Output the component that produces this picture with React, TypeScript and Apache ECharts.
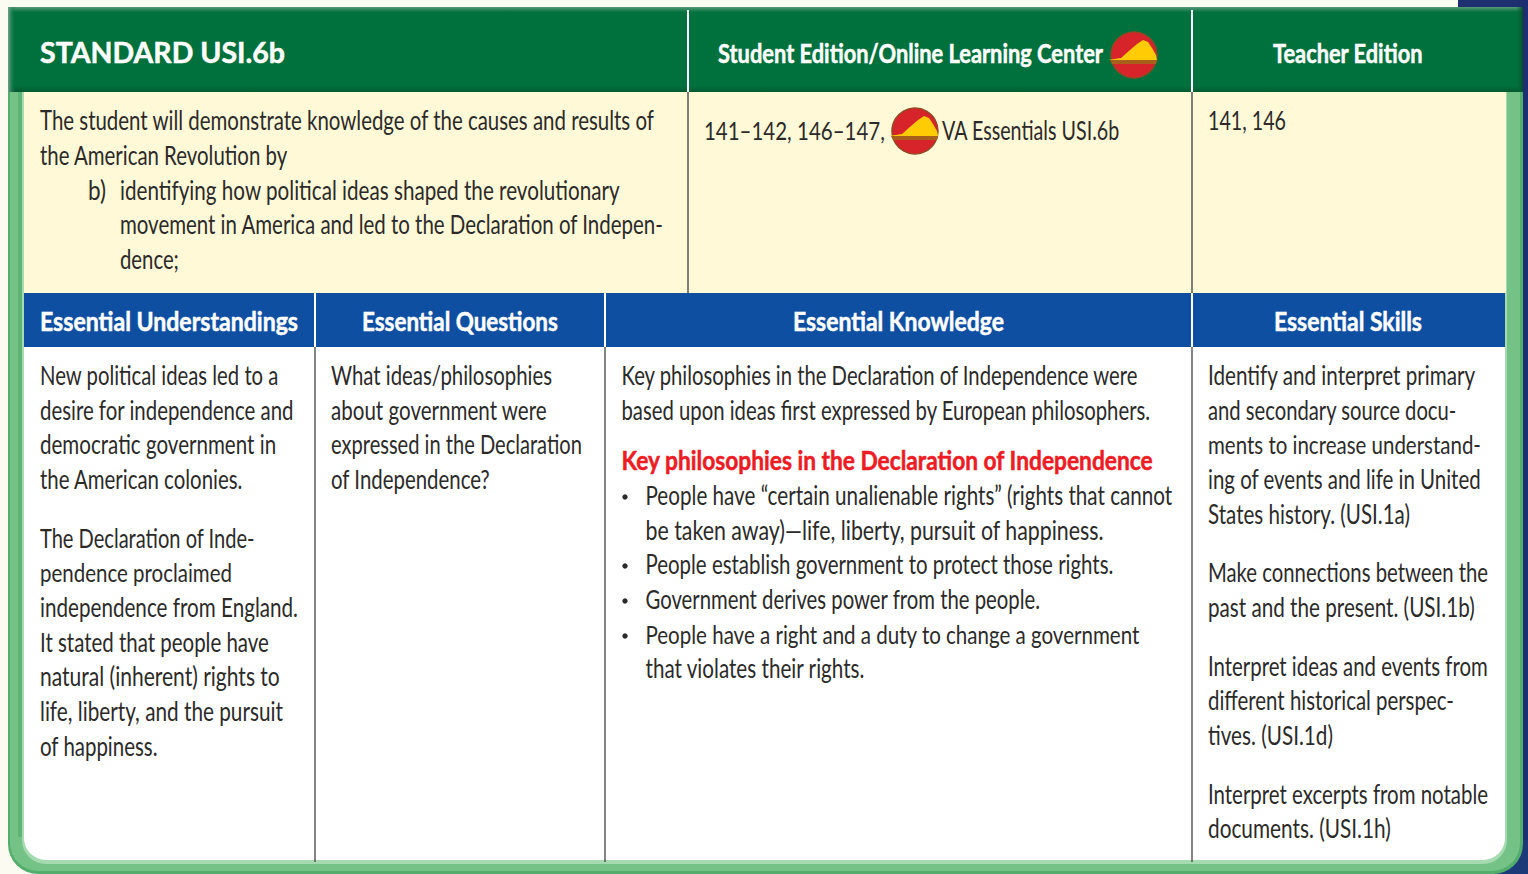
import React, { useEffect, useRef } from "react";
import * as echarts from "echarts";

// ---------- Content ----------
const headerLabels = ["STANDARD USI.6b", "Student Edition/Online Learning Center", "Teacher Edition"];
const standardLines = [
  "The student will demonstrate knowledge of the causes and results of",
  "the American Revolution by",
  "b)",
  "identifying how political ideas shaped the revolutionary",
  "movement in America and led to the Declaration of Indepen-",
  "dence;",
];
const pageRefs = ["141–142, 146–147,", "VA Essentials USI.6b", "141, 146"];
const sectionLabels = ["Essential Understandings", "Essential Questions", "Essential Knowledge", "Essential Skills"];
const understandingLines = [
  "New political ideas led to a",
  "desire for independence and",
  "democratic government in",
  "the American colonies.",
  "The Declaration of Inde-",
  "pendence proclaimed",
  "independence from England.",
  "It stated that people have",
  "natural (inherent) rights to",
  "life, liberty, and the pursuit",
  "of happiness.",
];
const questionLines = [
  "What ideas/philosophies",
  "about government were",
  "expressed in the Declaration",
  "of Independence?",
];
const knowledgeLines = [
  "Key philosophies in the Declaration of Independence were",
  "based upon ideas first expressed by European philosophers.",
];
const knowledgeHeading = "Key philosophies in the Declaration of Independence";
const bulletLines = [
  "People have “certain unalienable rights” (rights that cannot",
  "be taken away)—life, liberty, pursuit of happiness.",
  "People establish government to protect those rights.",
  "Government derives power from the people.",
  "People have a right and a duty to change a government",
  "that violates their rights.",
];
const skillLines = [
  "Identify and interpret primary",
  "and secondary source docu-",
  "ments to increase understand-",
  "ing of events and life in United",
  "States history. (USI.1a)",
  "Make connections between the",
  "past and the present. (USI.1b)",
  "Interpret ideas and events from",
  "different historical perspec-",
  "tives. (USI.1d)",
  "Interpret excerpts from notable",
  "documents. (USI.1h)",
];

// ---------- Layout (x, centre y, width on the page) ----------
type Box = [number, number, number];
const headerBoxes: Box[] = [[40, 53, 245], [718, 54, 385], [1273, 54, 150]];
const standardBoxes: Box[] = [[40, 121, 615], [40, 156, 248], [88, 191, 18], [120, 191, 500], [120, 225, 544], [120, 260, 59]];
const pageBoxes: Box[] = [[704, 131, 181], [942, 131, 178], [1208, 121, 78]];
const sectionBoxes: Box[] = [[40, 322, 258], [362, 322, 196], [793, 322, 211], [1274, 322, 148]];
const understandingBoxes: Box[] = [[40, 376, 239], [40, 411, 254], [40, 445, 236], [40, 480, 203], [40, 539, 215], [40, 573, 192], [40, 608, 258], [40, 643, 229], [40, 677, 240], [40, 712, 243], [40, 747, 118]];
const questionBoxes: Box[] = [[331, 376, 221], [331, 411, 216], [331, 445, 251], [331, 480, 159]];
const knowledgeBoxes: Box[] = [[621.5, 376, 517.5], [621.5, 411, 529.5]];
const headingBox: Box = [621.5, 461, 532.5];
const bulletBoxes: Box[] = [[645.5, 496, 527], [645.5, 531, 459], [645.5, 565, 468], [645.5, 600, 395], [645.5, 635, 495], [645.5, 669, 220]];
const bulletRows = [0, 2, 3, 4];
const skillBoxes: Box[] = [[1208, 376, 268], [1208, 411, 249], [1208, 445, 273], [1208, 480, 273], [1208, 515, 202], [1208, 573, 280], [1208, 608, 267], [1208, 667, 280], [1208, 701, 246], [1208, 736, 125], [1208, 795, 280], [1208, 829, 183]];

const FONT = "Lato";
const measure = document.createElement("canvas").getContext("2d")!;

function line(text: string, box: Box, size: number, weight: string, fill: string) {
  const font = `${weight} ${size}px ${FONT}`;
  measure.font = font;
  const w = measure.measureText(text).width || 1;
  const heavy = weight === "bold";
  return {
    type: "text",
    x: box[0],
    y: box[1] - 1,
    scaleX: box[2] / w,
    silent: true,
    style: {
      text,
      font,
      fill,
      align: "left",
      verticalAlign: "middle",
      ...(heavy ? { stroke: fill, lineWidth: 0.5 } : {}),
    },
  };
}

const rect = (x: number, y: number, w: number, h: number, fill: any, r?: number) => ({
  type: "rect",
  silent: true,
  shape: { x, y, width: w, height: h, r: r ?? 0 },
  style: { fill },
});

const vGrad = (stops: [number, string][]) =>
  new echarts.graphic.LinearGradient(0, 0, 0, 1, stops.map(([offset, color]) => ({ offset, color })));
const hGrad = (stops: [number, string][]) =>
  new echarts.graphic.LinearGradient(0, 0, 1, 0, stops.map(([offset, color]) => ({ offset, color })));

function globe(cx: number, cy: number) {
  const p = (pts: number[][]) => pts.map(([a, b]) => [cx + a, cy + b]);
  return [
    { type: "circle", silent: true, shape: { cx, cy, r: 23 }, style: { fill: "#D7232A", stroke: "#8F4A24", lineWidth: 1.5 } },
    {
      type: "polygon",
      silent: true,
      shape: { points: p([[-26, 5], [-13, 3], [-4, -5], [3, -11], [9, -15], [14, -13], [18, -7], [22, 0], [23, 5]]) },
      style: { fill: "#FFCB05" },
    },
    { type: "polygon", silent: true, shape: { points: p([[-24, 5], [23, 5], [22, 9], [-22, 9]]) }, style: { fill: "#A8601A" } },
  ];
}

function buildGraphics() {
  const els: any[] = [];
  const INK = "#2B2A29";
  // page and frame
  els.push(rect(0, 0, 1528, 874, "#FCFBF2"));
  els.push(rect(1458, 0, 70, 8, "#1D2F6F"));
  els.push(rect(1523, 0, 5, 874, "#1D2F72"));
  els.push(rect(1490, 840, 38, 34, "#1D3A78"));
  els.push(rect(8, 60, 1515, 814, "#53AE6E", 30));
  els.push(rect(10, 60, 1510, 811, "#74C286", 28));
  els.push(rect(22, 60, 1485, 804, "#A6DAB1", 24));
  els.push(rect(18, 92, 4, 745, "#5FB475"));
  els.push(rect(24, 60, 1481, 800, "#FFFFFF", 22));
  // green header
  els.push(rect(8, 7, 1515, 85, vGrad([[0, "#5A9A78"], [0.06, "#00703C"], [0.93, "#00703C"], [1, "#045A30"]])));
  els.push(rect(8, 7, 8, 85, hGrad([[0, "#6FA389"], [1, "rgba(0,112,60,0)"]])));
  els.push(rect(1516, 7, 7, 85, hGrad([[0, "rgba(0,112,60,0)"], [1, "#0A4A2C"]])));
  // yellow row and blue band
  els.push(rect(24, 92, 1482, 201, "#FFF9D7"));
  els.push(rect(24, 293, 1481, 54, "#0F4FA2"));
  // rules
  const rule = (x: number, y1: number, y2: number, stroke: string, w = 2) => ({
    type: "line",
    silent: true,
    shape: { x1: x, y1, x2: x, y2 },
    style: { stroke, lineWidth: w },
  });
  els.push(rule(688, 10, 92, "#FFFFFF"));
  els.push(rule(1192, 10, 92, "#FFFFFF"));
  els.push(rule(688, 92, 293, "#555555", 1.5));
  els.push(rule(1192, 92, 293, "#555555", 1.5));
  els.push(rule(315, 293, 347, "#FFFFFF"));
  els.push(rule(605, 293, 347, "#FFFFFF"));
  els.push(rule(1192, 293, 347, "#FFFFFF"));
  els.push(rule(315, 347, 862, "#333333", 1.2));
  els.push(rule(605, 347, 862, "#333333", 1.2));
  els.push(rule(1192, 347, 862, "#333333", 1.2));
  // icons
  els.push(...globe(1134, 55));
  els.push(...globe(915, 131));
  // texts
  headerLabels.forEach((t, i) => els.push(line(t, headerBoxes[i], i === 0 ? 28 : 26, "bold", "#FFFFFF")));
  standardLines.forEach((t, i) => els.push(line(t, standardBoxes[i], 26, "normal", INK)));
  pageRefs.forEach((t, i) => els.push(line(t, pageBoxes[i], 26, "normal", INK)));
  sectionLabels.forEach((t, i) => els.push(line(t, sectionBoxes[i], 26, "bold", "#FFFFFF")));
  understandingLines.forEach((t, i) => els.push(line(t, understandingBoxes[i], 26, "normal", INK)));
  questionLines.forEach((t, i) => els.push(line(t, questionBoxes[i], 26, "normal", INK)));
  knowledgeLines.forEach((t, i) => els.push(line(t, knowledgeBoxes[i], 26, "normal", INK)));
  els.push(line(knowledgeHeading, headingBox, 26, "bold", "#ED1C24"));
  bulletLines.forEach((t, i) => els.push(line(t, bulletBoxes[i], 26, "normal", INK)));
  bulletRows.forEach((i) =>
    els.push({
      type: "circle",
      silent: true,
      shape: { cx: 625, cy: bulletBoxes[i][1] + 1, r: 2.7 },
      style: { fill: INK },
    })
  );
  skillLines.forEach((t, i) => els.push(line(t, skillBoxes[i], 26, "normal", INK)));
  return els;
}

export default function App() {
  const ref = useRef<HTMLDivElement>(null);
  useEffect(() => {
    document.body.style.margin = "0";
    const chart = echarts.init(ref.current!, undefined, { renderer: "svg" });
    chart.setOption({ animation: false, graphic: { elements: buildGraphics() } });
    return () => chart.dispose();
  }, []);
  return <div ref={ref} style={{ width: 1528, height: 874 }} />;
}
